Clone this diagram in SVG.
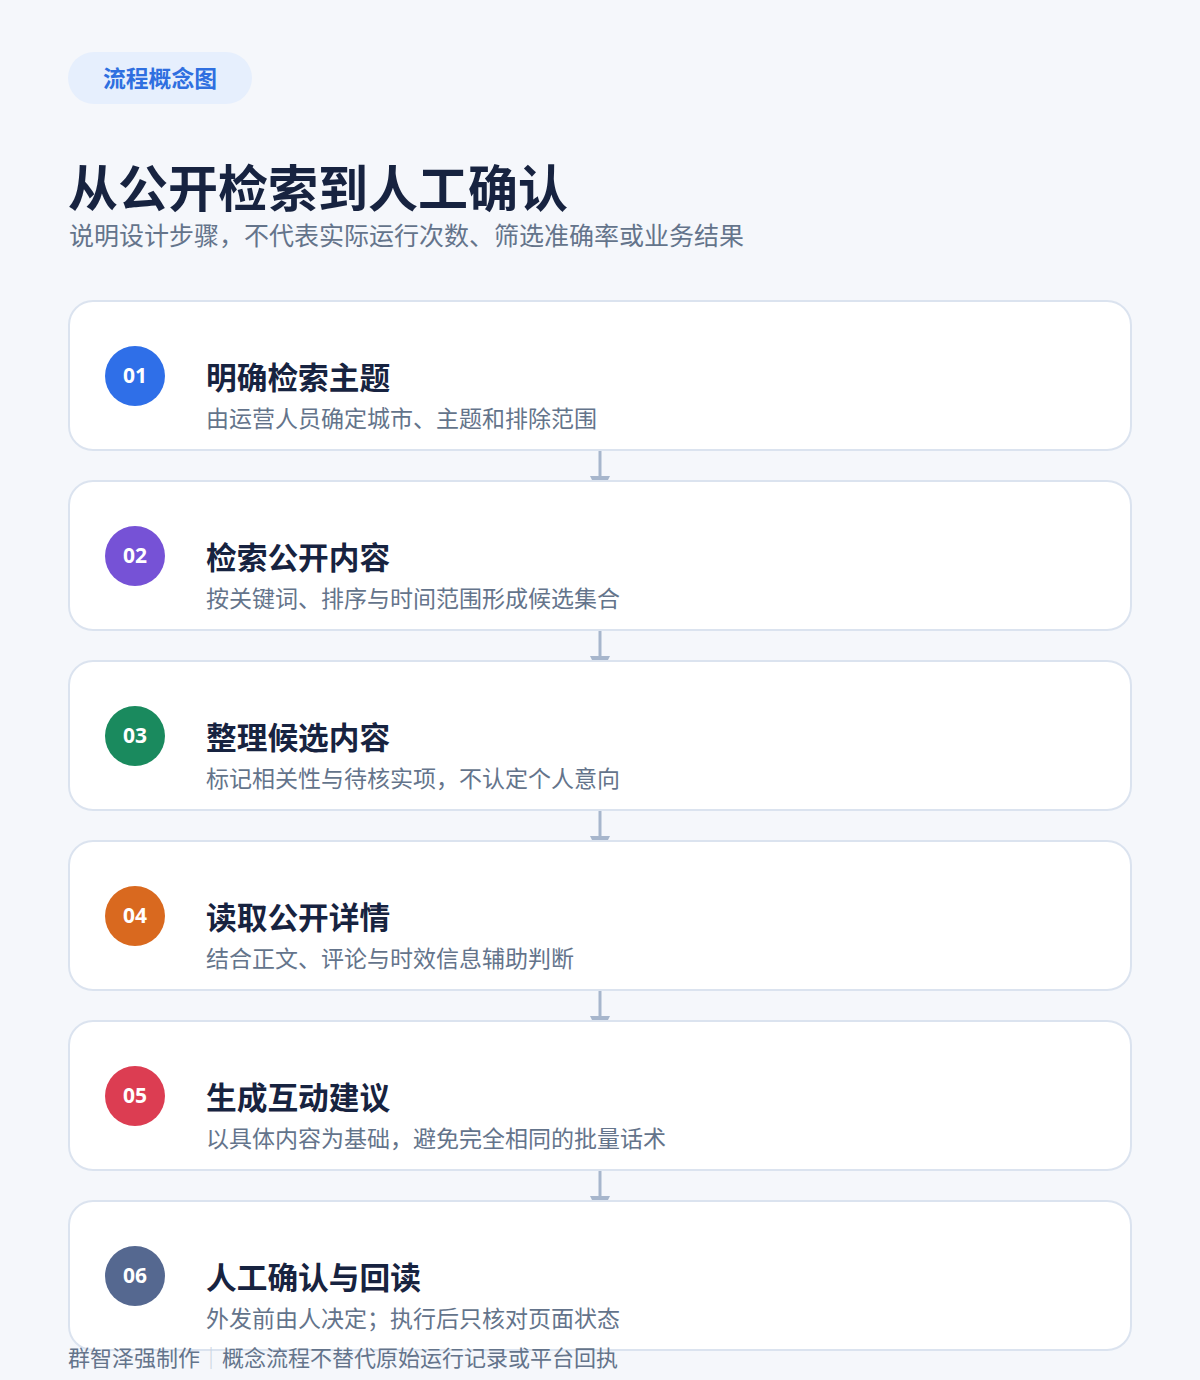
<svg xmlns="http://www.w3.org/2000/svg" width="1200" height="1380" viewBox="0 0 1200 1380">
<style>
.cjk{font-family:"Noto Sans CJK SC","Noto Sans",sans-serif}
.card{fill:#ffffff;stroke:#dbe3ef;stroke-width:2}
.st{font-size:30.7px;font-weight:700;fill:#172340}
.sd{font-size:23px;fill:#64748b}
.num{font-family:"Noto Sans","Open Sans",sans-serif;font-size:21px;font-weight:700;fill:#ffffff}
.conn{stroke:#a7b6cc;stroke-width:3;fill:none}
.head{fill:#a7b6cc}
</style>
<rect width="1200" height="1380" fill="#f5f7fb"/>
<g id="badge">
<rect x="68" y="52" width="184" height="52" rx="26" fill="#e6effd"/>
<text class="cjk" x="103" y="87" font-size="22.8" font-weight="700" fill="#2f6fe0">流程概念图</text>
</g>
<g id="header">
<text class="cjk" x="68" y="207" font-size="50" font-weight="700" fill="#172340">从公开检索到人工确认</text>
<text class="cjk" x="69" y="245" font-size="25" fill="#64748b">说明设计步骤，不代表实际运行次数、筛选准确率或业务结果</text>
</g>
<g id="connectors">
<line class="conn" x1="600" y1="451" x2="600" y2="477"/>
<path class="head" d="M590 476 H610 L608 480 H592 Z"/>
<line class="conn" x1="600" y1="631" x2="600" y2="657"/>
<path class="head" d="M590 656 H610 L608 660 H592 Z"/>
<line class="conn" x1="600" y1="811" x2="600" y2="837"/>
<path class="head" d="M590 836 H610 L608 840 H592 Z"/>
<line class="conn" x1="600" y1="991" x2="600" y2="1017"/>
<path class="head" d="M590 1016 H610 L608 1020 H592 Z"/>
<line class="conn" x1="600" y1="1171" x2="600" y2="1197"/>
<path class="head" d="M590 1196 H610 L608 1200 H592 Z"/>
</g>
<g id="step1">
<rect class="card" x="69" y="301" width="1062" height="149" rx="24"/>
<circle cx="135" cy="376" r="30" fill="#2f6fe8"/>
<text class="num" x="135" y="383" text-anchor="middle">01</text>
<text class="cjk st" x="206" y="389">明确检索主题</text>
<text class="cjk sd" x="206" y="427">由运营人员确定城市、主题和排除范围</text>
</g>
<g id="step2">
<rect class="card" x="69" y="481" width="1062" height="149" rx="24"/>
<circle cx="135" cy="556" r="30" fill="#7652d6"/>
<text class="num" x="135" y="563" text-anchor="middle">02</text>
<text class="cjk st" x="206" y="569">检索公开内容</text>
<text class="cjk sd" x="206" y="607">按关键词、排序与时间范围形成候选集合</text>
</g>
<g id="step3">
<rect class="card" x="69" y="661" width="1062" height="149" rx="24"/>
<circle cx="135" cy="736" r="30" fill="#1a8a5e"/>
<text class="num" x="135" y="743" text-anchor="middle">03</text>
<text class="cjk st" x="206" y="749">整理候选内容</text>
<text class="cjk sd" x="206" y="787">标记相关性与待核实项，不认定个人意向</text>
</g>
<g id="step4">
<rect class="card" x="69" y="841" width="1062" height="149" rx="24"/>
<circle cx="135" cy="916" r="30" fill="#d9691f"/>
<text class="num" x="135" y="923" text-anchor="middle">04</text>
<text class="cjk st" x="206" y="929">读取公开详情</text>
<text class="cjk sd" x="206" y="967">结合正文、评论与时效信息辅助判断</text>
</g>
<g id="step5">
<rect class="card" x="69" y="1021" width="1062" height="149" rx="24"/>
<circle cx="135" cy="1096" r="30" fill="#dc3d52"/>
<text class="num" x="135" y="1103" text-anchor="middle">05</text>
<text class="cjk st" x="206" y="1109">生成互动建议</text>
<text class="cjk sd" x="206" y="1147">以具体内容为基础，避免完全相同的批量话术</text>
</g>
<g id="step6">
<rect class="card" x="69" y="1201" width="1062" height="149" rx="24"/>
<circle cx="135" cy="1276" r="30" fill="#556890"/>
<text class="num" x="135" y="1283" text-anchor="middle">06</text>
<text class="cjk st" x="206" y="1289">人工确认与回读</text>
<text class="cjk sd" x="206" y="1327">外发前由人决定；执行后只核对页面状态</text>
</g>
<g id="footer">
<text class="cjk" x="68" y="1366" font-size="22" fill="#64748b">群智泽强制作<tspan fill="#cbd5e1">｜</tspan>概念流程不替代原始运行记录或平台回执</text>
</g>
</svg>
